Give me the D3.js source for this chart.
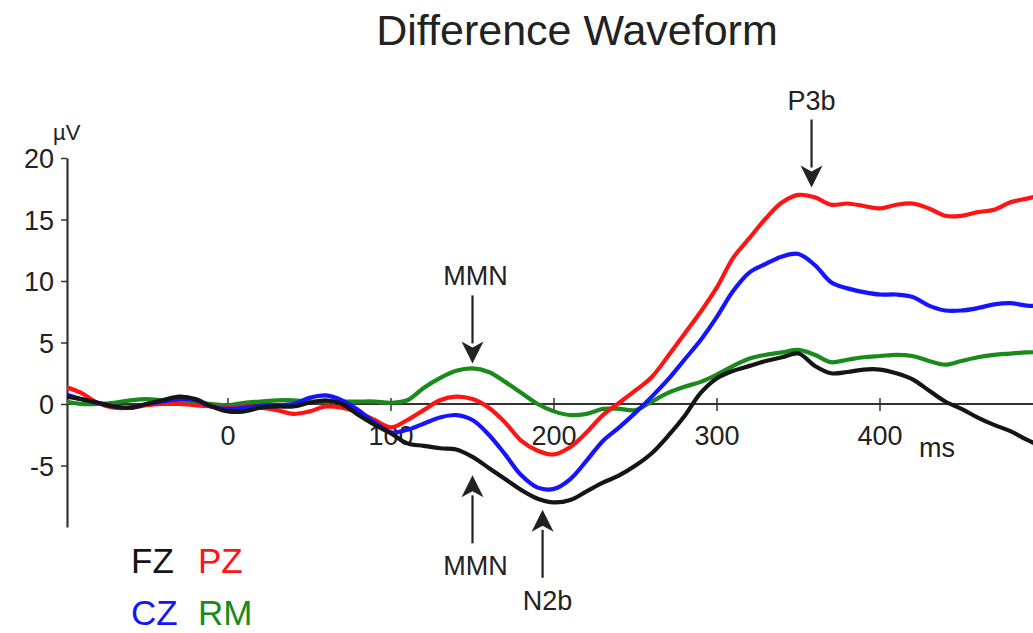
<!DOCTYPE html>
<html lang="en">

<head>
  <meta charset="utf-8">
  <title>Difference Waveform</title>
  <script src="https://d3js.org/d3.v7.min.js"></script>
  <style>
    body { margin: 0; background: #fff; }
    text { font-family: "Liberation Sans", Arial, sans-serif; fill: #222; }
  </style>
</head>

<body>
  <script>
    // data (ms, µV)
    const times = d3.range(-100, 501, 10);
    const fz = [0.6, 0.4, 0.1, -0.2, -0.3, 0.0, 0.3, 0.6, 0.4, -0.2,
      -0.6, -0.6, -0.3, -0.2, -0.2, 0.1, 0.3, 0.0, -0.9, -1.7,
      -2.4, -3.2, -3.4, -3.6, -3.7, -4.3, -5.2, -6.1, -7.0, -7.7,
      -8.0, -7.8, -7.1, -6.4, -5.8, -5.0, -4.0, -2.6, -1.0, 0.9,
      2.1, 2.7, 3.1, 3.5, 3.8, 4.1, 3.1, 2.5, 2.6, 2.8,
      2.8, 2.5, 2.0, 1.1, 0.2, -0.4, -1.1, -1.7, -2.2, -2.9, -3.5];
    const pz = [1.4, 0.9, 0.1, -0.3, -0.3, -0.1, 0.0, 0.0, -0.1, -0.2,
      -0.3, -0.2, -0.3, -0.5, -0.8, -0.6, -0.2, -0.3, -0.7, -1.3,
      -1.9, -1.3, -0.5, 0.3, 0.6, 0.4, -0.3, -1.5, -3.0, -3.8,
      -4.1, -3.5, -2.3, -0.9, 0.1, 1.1, 2.2, 3.9, 5.7, 7.5,
      9.5, 11.9, 13.5, 15.1, 16.4, 17.0, 16.8, 16.2, 16.3, 16.1,
      15.9, 16.2, 16.3, 15.9, 15.3, 15.3, 15.6, 15.8, 16.4, 16.7, 17.0];
    const cz = [0.8, 0.4, 0.1, -0.2, -0.3, 0.0, 0.2, 0.4, 0.3, -0.2,
      -0.4, -0.3, -0.2, -0.1, 0.0, 0.5, 0.7, 0.3, -0.5, -1.5,
      -2.3, -2.1, -1.6, -1.1, -0.9, -1.3, -2.5, -4.1, -5.8, -6.8,
      -6.9, -6.1, -4.6, -3.0, -1.9, -0.7, 0.6, 2.0, 3.6, 5.2,
      7.1, 9.2, 10.7, 11.4, 12.0, 12.2, 11.3, 9.9, 9.4, 9.1,
      8.9, 8.9, 8.7, 8.0, 7.6, 7.6, 7.8, 8.1, 8.2, 8.0, 8.0];
    const rm = [0.2, 0.0, 0.0, 0.1, 0.3, 0.4, 0.3, 0.2, 0.1, 0.0,
      -0.1, 0.1, 0.2, 0.3, 0.3, 0.2, 0.2, 0.2, 0.2, 0.2,
      0.1, 0.3, 1.3, 2.1, 2.7, 2.9, 2.6, 1.8, 0.9, 0.0,
      -0.6, -0.9, -0.8, -0.4, -0.4, -0.5, 0.2, 0.9, 1.4, 1.8,
      2.4, 3.1, 3.7, 4.0, 4.2, 4.4, 4.0, 3.4, 3.6, 3.8,
      3.9, 4.0, 3.9, 3.5, 3.2, 3.5, 3.8, 4.0, 4.1, 4.2, 4.2];
    const seriesNames = ["RM", "PZ", "CZ", "FZ"];
    const seriesValues = [rm, pz, cz, fz];
    const seriesColors = ["#1a8a1a", "#ff1414", "#1414ff", "#151515"];
    const xTicks = [0, 100, 200, 300, 400];
    const yTicks = [-5, 0, 5, 10, 15, 20];
    // annotation arrows: label, time, tip value, pointing direction
    const annotations = [
      { label: "MMN", ms: 150, value: 3.3, dir: "down" },
      { label: "P3b", ms: 358, value: 17.6, dir: "down" },
      { label: "MMN", ms: 150, value: -5.8, dir: "up" },
      { label: "N2b", ms: 193, value: -8.6, dir: "up" }
    ];

    const width = 1033, height = 633;
    const left = 67;

    const svg = d3.select("body").append("svg")
      .attr("width", width).attr("height", height);

    const x = d3.scaleLinear().domain([-100, 500]).range([65, 1043]);
    const y = d3.scaleLinear().domain([-10, 20]).range([527, 158]);

    svg.append("defs").append("clipPath").attr("id", "plot")
      .append("rect").attr("x", left).attr("y", 0)
      .attr("width", width - left).attr("height", height);

    // title
    svg.append("text")
      .attr("x", 577).attr("y", 45)
      .attr("text-anchor", "middle")
      .style("font-size", "43px")
      .text("Difference Waveform");

    // y axis
    const yAxis = svg.append("g")
      .attr("transform", `translate(${left},0)`)
      .call(d3.axisLeft(y).tickValues(yTicks).tickFormat(d => String(d))
        .tickSizeInner(6).tickSizeOuter(0));
    yAxis.select(".domain").attr("stroke", "#333").attr("stroke-width", 2.2);
    yAxis.selectAll(".tick line").attr("stroke", "#333").attr("stroke-width", 1.5);
    yAxis.selectAll(".tick text")
      .attr("x", -13).attr("dy", "0.36em")
      .style("font-size", "27px").style("font-family", "Liberation Sans, Arial, sans-serif")
      .attr("fill", "#222");
    svg.append("text")
      .attr("x", 53).attr("y", 140)
      .style("font-size", "22px")
      .text("µV");

    // x axis along zero
    svg.append("line")
      .attr("x1", left).attr("x2", width)
      .attr("y1", y(0)).attr("y2", y(0))
      .attr("stroke", "#333").attr("stroke-width", 2);
    const xAxis = svg.append("g").attr("transform", `translate(0,${y(0)})`);
    xAxis.selectAll("line").data(xTicks).join("line")
      .attr("x1", d => x(d)).attr("x2", d => x(d))
      .attr("y1", -6).attr("y2", 7)
      .attr("stroke", "#333").attr("stroke-width", 1.5);
    xAxis.selectAll("text").data(xTicks).join("text")
      .attr("x", d => x(d)).attr("y", 41)
      .attr("text-anchor", "middle")
      .style("font-size", "27px")
      .text(d => d);
    svg.append("text")
      .attr("x", x(424)).attr("y", y(0) + 53)
      .style("font-size", "27px")
      .text("ms");

    // waveforms
    const line = d3.line()
      .x((d, i) => x(times[i]))
      .y(d => y(d))
      .curve(d3.curveCatmullRom.alpha(0.5));
    svg.append("g").attr("clip-path", "url(#plot)")
      .selectAll("path").data(seriesValues).join("path")
      .attr("d", line)
      .attr("fill", "none")
      .attr("stroke", (d, i) => seriesColors[i])
      .attr("stroke-width", 4.2)
      .attr("stroke-linejoin", "round");

    // arrows and labels
    const arrowLen = 68, headH = 22, headW = 11;
    const ann = svg.append("g").selectAll("g").data(annotations).join("g")
      .attr("transform", d => `translate(${x(d.ms)},${y(d.value)})`);
    ann.append("line")
      .attr("x1", 0).attr("x2", 0)
      .attr("y1", d => d.dir === "down" ? -arrowLen : arrowLen)
      .attr("y2", d => d.dir === "down" ? -headH + 2 : headH - 2)
      .attr("stroke", "#222").attr("stroke-width", 2.2);
    ann.append("path")
      .attr("d", d => {
        const s = d.dir === "down" ? -1 : 1;
        return `M0,0L${-headW},${s * headH}L0,${s * (headH - 6)}L${headW},${s * headH}Z`;
      })
      .attr("fill", "#222");
    ann.append("text")
      .attr("x", d => d.label === "N2b" ? 5 : (d.label === "P3b" ? 0 : 3))
      .attr("y", d => d.dir === "down" ? -arrowLen - 10 : arrowLen + 32)
      .attr("text-anchor", "middle")
      .style("font-size", "27px")
      .text(d => d.label);

    // legend
    const legendNames = ["FZ", "PZ", "CZ", "RM"];
    const legendColors = ["#151515", "#ff1414", "#1414ff", "#1a8a1a"];
    svg.append("g").selectAll("text").data(legendNames).join("text")
      .attr("x", (d, i) => i % 2 === 0 ? 131 : 198)
      .attr("y", (d, i) => i < 2 ? 573 : 625)
      .style("font-size", "35px")
      .style("fill", (d, i) => legendColors[i])
      .text(d => d);
  </script>
</body>

</html>
